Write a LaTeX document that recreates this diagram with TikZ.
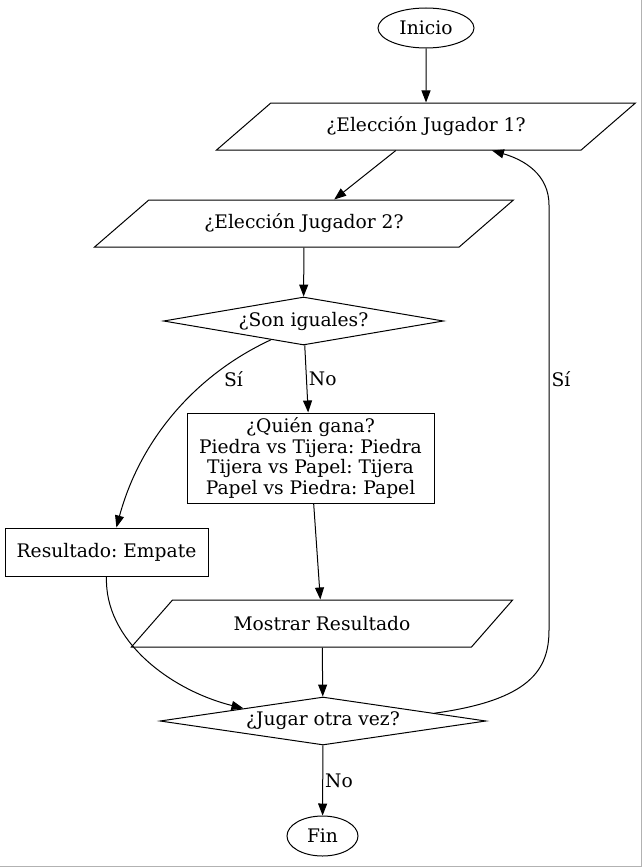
\documentclass[tikz,border=0pt]{standalone}
\usepackage{fontspec}
\setmainfont{DejaVu Serif}
\usetikzlibrary{arrows.meta,shapes.geometric}
\frenchspacing

\begin{document}
\begin{tikzpicture}[x=1pt,y=-1pt,->,>={Triangle[length=12pt,width=9pt]},line width=1pt,
	font=\fontsize{18.67}{20.5}\selectfont]
	\tikzstyle{terminal}=[ellipse,draw,minimum height=40pt,inner sep=0pt]
	\tikzstyle{datos}=[trapezium,draw,trapezium stretches=true,minimum height=47pt,inner sep=0pt]
	\tikzstyle{decision}=[diamond,draw,minimum height=48pt,inner sep=0pt]
	\tikzstyle{proceso}=[rectangle,draw,inner sep=0pt,align=center]
	\tikzstyle{etiqueta}=[draw=none,inner sep=2pt]
	\useasboundingbox (0,0) rectangle (642,867);
	\draw[-,gray!60] (641.5,0) -- (641.5,866.5) -- (0,866.5);

	\node[terminal,minimum width=96pt] (inicio) at (426,28) {Inicio};
	\node[datos,minimum width=420pt,trapezium left angle=28.7,trapezium right angle=151.3] (jug1) at (426,126.5) {¿Elección Jugador 1?};
	\node[datos,minimum width=420pt,trapezium left angle=28.7,trapezium right angle=151.3] (jug2) at (304,223.5) {¿Elección Jugador 2?};
	\node[decision,minimum width=280pt,aspect=5.83] (iguales) at (303.5,321) {¿Son iguales?};
	\node[proceso,minimum width=247pt,minimum height=90pt] (gana) at (310.5,458) {¿Quién gana?\\Piedra vs Tijera: Piedra\\Tijera vs Papel: Tijera\\Papel vs Piedra: Papel};
	\node[proceso,minimum width=203pt,minimum height=48pt] (empate) at (106.5,552) {Resultado: Empate};
	\node[datos,minimum width=382pt,trapezium left angle=30.7,trapezium right angle=149.3] (mostrar) at (322,623.5) {Mostrar Resultado};
	\node[decision,minimum width=326pt,aspect=6.79] (otra) at (323,721) {¿Jugar otra vez?};
	\node[terminal,minimum width=71pt] (fin) at (322.5,836) {Fin};

	\path (inicio) edge (jug1);
	\path (jug1) edge (jug2);
	\path (jug2) edge (iguales);
	\draw (iguales.210) .. controls (195,375) and (140,440) .. node[etiqueta,pos=0.3,right,xshift=13pt] {Sí} (empate.68);
	\path (iguales) edge node[etiqueta,right] {No} (gana);
	\path (gana) edge (mostrar);
	\draw (empate.south) .. controls (104,640) and (170,690) .. (otra.171);
	\path (mostrar) edge (otra);
	\draw (otra.4) .. controls (530,700) and (549,670) .. (549,630) -- node[etiqueta,pos=0.59,right] {Sí} (549,205) .. controls (549,175) and (525,160) .. (jug1.340);
	\path (otra) edge node[etiqueta,right] {No} (fin);
\end{tikzpicture}
\end{document}
